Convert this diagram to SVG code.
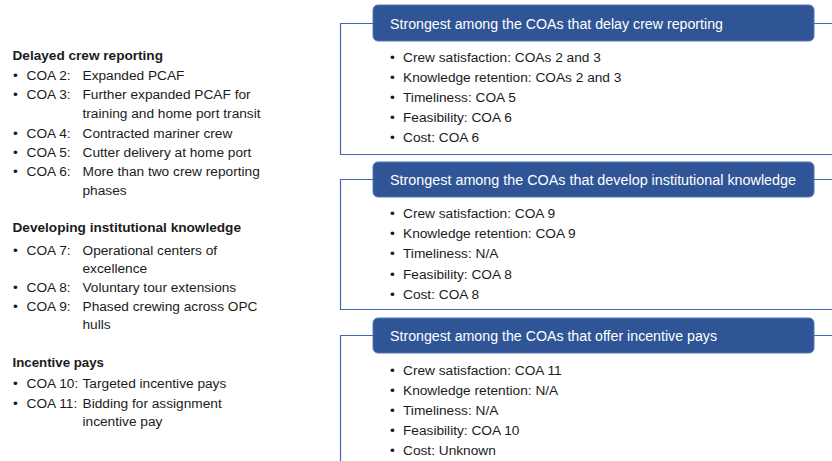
<svg xmlns="http://www.w3.org/2000/svg" width="832" height="461" viewBox="0 0 832 461">
  <style>
    text { font-family: "Liberation Sans", Arial, sans-serif; font-size: 13.7px; fill: #1b1b1b; }
    .hd { font-weight: bold; font-size: 13px; }
    .ht { fill: #ffffff; font-size: 14px; }
    .frame { fill: none; stroke: #4568b0; stroke-width: 1.2; }
    .hbox { fill: #2f5597; stroke: #5877b5; stroke-width: 1; }
  </style>
  <rect width="832" height="461" fill="#ffffff"/>

  <!-- Left column: COA groups -->
  <g id="list-delayed">
    <text class="hd" x="12.5" y="60" textLength="150.5" lengthAdjust="spacingAndGlyphs">Delayed crew reporting</text>
    <text x="13" y="80">•</text><text x="26.5" y="80">COA 2:</text><text x="82.5" y="80">Expanded PCAF</text>
    <text x="13" y="99">•</text><text x="26.5" y="99">COA 3:</text><text x="82.5" y="99">Further expanded PCAF for</text>
    <text x="82.5" y="118">training and home port transit</text>
    <text x="13" y="138">•</text><text x="26.5" y="138">COA 4:</text><text x="82.5" y="138">Contracted mariner crew</text>
    <text x="13" y="157">•</text><text x="26.5" y="157">COA 5:</text><text x="82.5" y="157">Cutter delivery at home port</text>
    <text x="13" y="176">•</text><text x="26.5" y="176">COA 6:</text><text x="82.5" y="176">More than two crew reporting</text>
    <text x="82.5" y="195">phases</text>
  </g>

  <g id="list-institutional">
    <text class="hd" x="12.5" y="232" textLength="228.5" lengthAdjust="spacingAndGlyphs">Developing institutional knowledge</text>
    <text x="13" y="255">•</text><text x="26.5" y="255">COA 7:</text><text x="82.5" y="255">Operational centers of</text>
    <text x="82.5" y="273">excellence</text>
    <text x="13" y="292">•</text><text x="26.5" y="292">COA 8:</text><text x="82.5" y="292">Voluntary tour extensions</text>
    <text x="13" y="311">•</text><text x="26.5" y="311">COA 9:</text><text x="82.5" y="311">Phased crewing across OPC</text>
    <text x="82.5" y="329">hulls</text>
  </g>

  <g id="list-incentive">
    <text class="hd" x="12.5" y="367" textLength="91.5" lengthAdjust="spacingAndGlyphs">Incentive pays</text>
    <text x="13" y="388">•</text><text x="26.5" y="388">COA 10:</text><text x="82.5" y="388">Targeted incentive pays</text>
    <text x="13" y="408">•</text><text x="26.5" y="408">COA 11:</text><text x="82.5" y="408">Bidding for assignment</text>
    <text x="82.5" y="426">incentive pay</text>
  </g>

  <!-- Right column: framed summaries -->
  <g id="frames">
    <path class="frame" d="M373,23.5 H340.5 V154.5 H832 M814,23.5 H832"/>
    <path class="frame" d="M373,179.5 H340.5 V309.5 H832 M814,179.5 H832"/>
    <path class="frame" d="M373,335.5 H340.5 V461 M814,335.5 H832"/>
  </g>

  <g id="summary-delayed">
    <rect class="hbox" x="373" y="5" width="441" height="36" rx="5"/>
    <text class="ht" x="390" y="28.5" textLength="333" lengthAdjust="spacingAndGlyphs">Strongest among the COAs that delay crew reporting</text>
    <text x="390" y="62">•</text><text x="403" y="62">Crew satisfaction: COAs 2 and 3</text>
    <text x="390" y="82">•</text><text x="403" y="82">Knowledge retention: COAs 2 and 3</text>
    <text x="390" y="102">•</text><text x="403" y="102">Timeliness: COA 5</text>
    <text x="390" y="121.5">•</text><text x="403" y="121.5">Feasibility: COA 6</text>
    <text x="390" y="142">•</text><text x="403" y="142">Cost: COA 6</text>
  </g>

  <g id="summary-institutional">
    <rect class="hbox" x="373" y="162" width="441" height="35" rx="5"/>
    <text class="ht" x="390" y="185" textLength="406" lengthAdjust="spacingAndGlyphs">Strongest among the COAs that develop institutional knowledge</text>
    <text x="390" y="218">•</text><text x="403" y="218">Crew satisfaction: COA 9</text>
    <text x="390" y="238">•</text><text x="403" y="238">Knowledge retention: COA 9</text>
    <text x="390" y="258">•</text><text x="403" y="258">Timeliness: N/A</text>
    <text x="390" y="278.5">•</text><text x="403" y="278.5">Feasibility: COA 8</text>
    <text x="390" y="298.5">•</text><text x="403" y="298.5">Cost: COA 8</text>
  </g>

  <g id="summary-incentive">
    <rect class="hbox" x="373" y="318" width="441" height="35" rx="5"/>
    <text class="ht" x="390" y="341" textLength="327" lengthAdjust="spacingAndGlyphs">Strongest among the COAs that offer incentive pays</text>
    <text x="390" y="375">•</text><text x="403" y="375">Crew satisfaction: COA 11</text>
    <text x="390" y="395">•</text><text x="403" y="395">Knowledge retention: N/A</text>
    <text x="390" y="415">•</text><text x="403" y="415">Timeliness: N/A</text>
    <text x="390" y="434.5">•</text><text x="403" y="434.5">Feasibility: COA 10</text>
    <text x="390" y="454.5">•</text><text x="403" y="454.5">Cost: Unknown</text>
  </g>
</svg>
